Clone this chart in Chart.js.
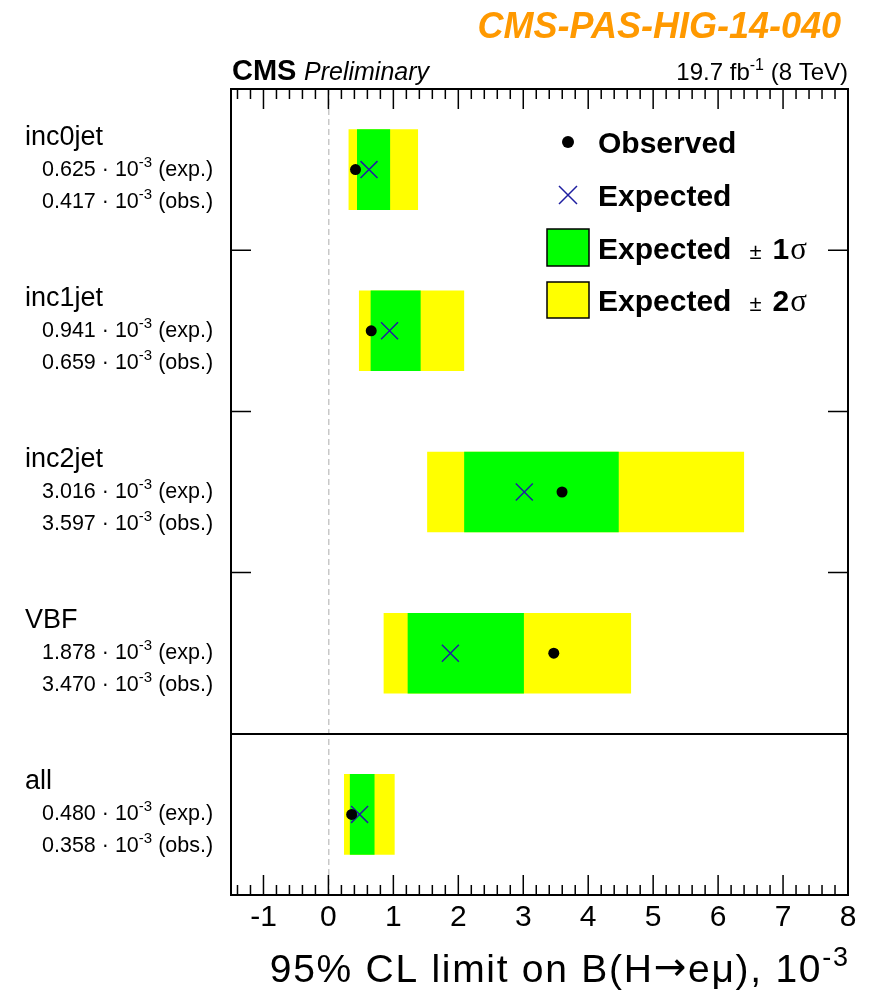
<!DOCTYPE html>
<html>
<head>
<meta charset="utf-8">
<script src="https://cdn.jsdelivr.net/npm/chart.js@4.4.1/dist/chart.umd.min.js"></script>
<style>
body { margin: 0; background: #fff; }
#wrap { width: 878px; height: 992px; position: relative; }
</style>
</head>
<body>
<div id="wrap"><canvas id="chart"></canvas></div>
<script>
// categories, top to bottom
const categories = ['inc0jet', 'inc1jet', 'inc2jet', 'VBF', 'all'];
// limits in units of 10^-3
const expected = [0.625, 0.941, 3.016, 1.878, 0.480];
const observed = [0.417, 0.659, 3.597, 3.470, 0.358];
const band1_low = [0.44, 0.65, 2.09, 1.22, 0.33];
const band1_high = [0.95, 1.42, 4.47, 3.01, 0.71];
const band2_low = [0.31, 0.47, 1.52, 0.85, 0.24];
const band2_high = [1.38, 2.09, 6.40, 4.66, 1.02];
const x_ticks = [-1, 0, 1, 2, 3, 4, 5, 6, 7, 8];

const SANS = '"Liberation Sans", Arial, Helvetica, sans-serif';
const SERIF = '"Liberation Serif", "Times New Roman", serif';
const CROSS_BLUE = '#1f1fa0';

// draw text pieces one after another (for superscripts and mixed fonts)
const draw_runs = (ctx, x, y, runs, align, spacing) => {
	ctx.letterSpacing = (spacing || 0) + 'px';
	let w = 0;
	runs.forEach(r => { ctx.font = r[1]; w += ctx.measureText(r[0]).width + (r[3] || 0); });
	let cx = align === 'right' ? x - w : x;
	runs.forEach(r => {
		ctx.font = r[1];
		ctx.fillText(r[0], cx, y + (r[2] || 0));
		cx += ctx.measureText(r[0]).width + (r[3] || 0);
	});
	ctx.letterSpacing = '0px';
	return w;
}

const decorations = {
	id: 'decorations',
	afterDraw(chart) {
		const ctx = chart.ctx;
		const area = chart.chartArea;
		const xs = chart.scales.x;
		const ys = chart.scales.y;
		ctx.save();
		ctx.fillStyle = '#000';
		ctx.strokeStyle = '#000';
		ctx.textBaseline = 'alphabetic';
		ctx.textAlign = 'left';

		// inner ticks on x (top and bottom)
		ctx.lineWidth = 1.5;
		ctx.beginPath();
		for (let i = -7; i <= 39; i++) {
			const v = i / 5;
			const px = xs.getPixelForValue(v);
			const len = (i % 5 === 0) ? 20 : 10;
			ctx.moveTo(px, area.bottom);
			ctx.lineTo(px, area.bottom - len);
			ctx.moveTo(px, area.top);
			ctx.lineTo(px, area.top + len);
		}
		// inner ticks on y at category boundaries
		for (let i = 0; i < 3; i++) {
			const py = (ys.getPixelForValue(i) + ys.getPixelForValue(i + 1)) / 2;
			ctx.moveTo(area.left, py);
			ctx.lineTo(area.left + 20, py);
			ctx.moveTo(area.right, py);
			ctx.lineTo(area.right - 20, py);
		}
		ctx.stroke();

		// frame
		ctx.lineWidth = 2;
		ctx.strokeRect(area.left, area.top, area.right - area.left, area.bottom - area.top);

		// row labels
		categories.forEach((c, i) => {
			const cy = ys.getPixelForValue(i);
			ctx.font = '27px ' + SANS;
			ctx.fillText(c, 25, cy - 25);
			draw_runs(ctx, 42, cy + 6, [
				[expected[i].toFixed(3) + ' \u00b7 10', '21.5px ' + SANS],
				['-3', '15px ' + SANS, -9],
				[' (exp.)', '21.5px ' + SANS]
			]);
			draw_runs(ctx, 42, cy + 38, [
				[observed[i].toFixed(3) + ' \u00b7 10', '21.5px ' + SANS],
				['-3', '15px ' + SANS, -9],
				[' (obs.)', '21.5px ' + SANS]
			]);
		});

		// header
		ctx.fillStyle = '#ff9900';
		ctx.textAlign = 'right';
		ctx.font = 'italic bold 36px ' + SANS;
		ctx.fillText('CMS-PAS-HIG-14-040', 841, 38);
		ctx.textAlign = 'left';
		ctx.fillStyle = '#000';
		ctx.font = 'bold 29px ' + SANS;
		ctx.fillText('CMS', 232, 80);
		ctx.font = 'italic 25px ' + SANS;
		ctx.fillText('Preliminary', 304, 80);
		draw_runs(ctx, 848, 80, [
			['19.7 fb', '24px ' + SANS],
			['-1', '16px ' + SANS, -10],
			[' (8 TeV)', '24px ' + SANS]
		], 'right');

		// axis title, spanning roughly 268..848 like the original
		const title_runs = [
			['95% CL limit on B(H', '39px ' + SANS],
			['\u2192', '39px "DejaVu Sans", sans-serif', -2],
			['e\u03bc), 10', '39px ' + SANS],
			['-3', '27px ' + SANS, -16]
		];
		ctx.letterSpacing = '0px';
		let tw = 0, n = 0;
		title_runs.forEach(r => { ctx.font = r[1]; tw += ctx.measureText(r[0]).width; n += r[0].length; });
		const sp = Math.max(0, Math.min(2, (580 - tw) / n));
		draw_runs(ctx, 848 + sp, 982, title_runs, 'right', sp);

		// legend
		ctx.beginPath();
		ctx.arc(568, 142, 6, 0, Math.PI * 2);
		ctx.fill();
		ctx.strokeStyle = CROSS_BLUE;
		ctx.lineWidth = 1.5;
		ctx.beginPath();
		ctx.moveTo(559, 186); ctx.lineTo(577, 204);
		ctx.moveTo(577, 186); ctx.lineTo(559, 204);
		ctx.stroke();
		ctx.strokeStyle = '#000';
		ctx.lineWidth = 1.5;
		ctx.fillStyle = '#00ff00';
		ctx.fillRect(547, 229, 42, 37);
		ctx.strokeRect(547, 229, 42, 37);
		ctx.fillStyle = '#ffff00';
		ctx.fillRect(547, 282, 42, 36);
		ctx.strokeRect(547, 282, 42, 36);
		ctx.fillStyle = '#000';
		ctx.font = 'bold 30px ' + SANS;
		ctx.fillText('Observed', 598, 153);
		ctx.fillText('Expected', 598, 206);
		[['1', 259], ['2', 311]].forEach(e => {
			draw_runs(ctx, 598, e[1], [
				['Expected', 'bold 30px ' + SANS, 0, 18],
				['\u00b1', '22px ' + SANS, 0, 11],
				[e[0], 'bold 30px ' + SANS, 0, 1],
				['\u03c3', '31px ' + SERIF]
			]);
		});
		ctx.restore();
	}
};

new Chart(document.getElementById('chart'), {
	type: 'bar',
	data: {
		labels: categories,
		datasets: [
			{
				type: 'scatter',
				label: 'Observed',
				order: 0,
				data: categories.map((c, i) => ({ x: observed[i], y: c })),
				pointStyle: 'circle',
				pointRadius: 5.5,
				backgroundColor: '#000',
				borderColor: '#000',
				borderWidth: 0
			},
			{
				type: 'scatter',
				label: 'Expected',
				order: 1,
				data: categories.map((c, i) => ({ x: expected[i], y: c })),
				pointStyle: 'crossRot',
				pointRadius: 12,
				borderColor: CROSS_BLUE,
				borderWidth: 1.5
			},
			{
				label: 'Expected \u00b1 1\u03c3',
				order: 2,
				data: categories.map((c, i) => [band1_low[i], band1_high[i]]),
				backgroundColor: '#00ff00',
				borderWidth: 0,
				grouped: false,
				barPercentage: 0.5,
				categoryPercentage: 1.0
			},
			{
				label: 'Expected \u00b1 2\u03c3',
				order: 3,
				data: categories.map((c, i) => [band2_low[i], band2_high[i]]),
				backgroundColor: '#ffff00',
				borderWidth: 0,
				grouped: false,
				barPercentage: 0.5,
				categoryPercentage: 1.0
			}
		]
	},
	options: {
		indexAxis: 'y',
		responsive: true,
		maintainAspectRatio: false,
		animation: false,
		events: [],
		layout: { padding: { left: 231, right: 30, top: 89, bottom: 0 } },
		plugins: {
			legend: { display: false },
			tooltip: { enabled: false }
		},
		scales: {
			x: {
				type: 'linear',
				min: -1.5,
				max: 8,
				afterBuildTicks: (s) => { s.ticks = x_ticks.map(v => ({ value: v })); },
				afterFit: (s) => { s.height = 97; },
				ticks: {
					font: { family: SANS, size: 30 },
					color: '#000',
					padding: 5,
					maxRotation: 0,
					autoSkip: false
				},
				grid: {
					drawTicks: false,
					lineWidth: 1.5,
					color: (c) => (c.tick && c.tick.value === 0) ? '#c8c8c8' : 'rgba(0,0,0,0)'
				},
				border: { display: false, dash: [6, 4] }
			},
			y: {
				type: 'category',
				offset: true,
				afterFit: (s) => { s.width = 0; },
				ticks: { display: false },
				grid: {
					offset: true,
					drawTicks: false,
					lineWidth: 2,
					color: (c) => c.index === 4 ? '#000' : 'rgba(0,0,0,0)'
				},
				border: { display: false }
			}
		}
	},
	plugins: [decorations]
});
</script>
</body>
</html>
